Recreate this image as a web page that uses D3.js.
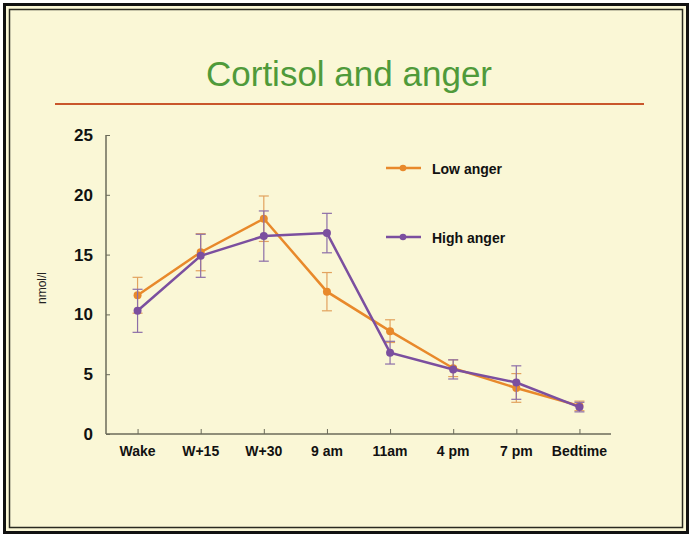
<!DOCTYPE html>
<html>
<head>
<meta charset="utf-8">
<script src="https://cdn.jsdelivr.net/npm/d3@7"></script>
<style>
  html, body { margin: 0; padding: 0; background: #ffffff; }
  svg { display: block; font-family: "Liberation Sans", Arial, sans-serif; }
</style>
</head>
<body>
<div id="chart"></div>
<script>
// categories along the x axis
var times = ["Wake", "W+15", "W+30", "9 am", "11am", "4 pm", "7 pm", "Bedtime"];

// mean cortisol (nmol/l) and error bar half-widths
var lowAnger = [11.6, 15.2, 18.0, 11.9, 8.6, 5.5, 3.85, 2.35];
var lowErr = [1.5, 1.55, 1.9, 1.6, 0.95, 0.7, 1.2, 0.4];
var highAnger = [10.3, 14.9, 16.55, 16.8, 6.8, 5.4, 4.3, 2.25];
var highErr = [1.8, 1.8, 2.1, 1.65, 0.95, 0.8, 1.4, 0.4];

var yTicks = [0, 5, 10, 15, 20, 25];

var series = [
  { name: "Low anger", values: lowAnger, err: lowErr, color: "#e8892b", errColor: "#e2a25e", legendY: 168 },
  { name: "High anger", values: highAnger, err: highErr, color: "#7b4f9f", errColor: "#8c6ea8", legendY: 237 }
];

var width = 691, height = 535;

var svg = d3.select("#chart").append("svg")
  .attr("width", width)
  .attr("height", height);

// background panel with double frame
svg.append("rect")
  .attr("x", 4.5).attr("y", 4.5)
  .attr("width", 683).attr("height", 528)
  .attr("fill", "#faf7d6")
  .attr("stroke", "#111").attr("stroke-width", 3);
svg.append("rect")
  .attr("x", 9.5).attr("y", 9.5)
  .attr("width", 673).attr("height", 518)
  .attr("fill", "none")
  .attr("stroke", "#2a2a20").attr("stroke-width", 1.5);

// title + rule
svg.append("text")
  .attr("x", 349).attr("y", 86)
  .attr("text-anchor", "middle")
  .attr("font-size", 35)
  .attr("fill", "#4f9a3a")
  .text("Cortisol and anger");

svg.append("line")
  .attr("x1", 55).attr("x2", 644)
  .attr("y1", 104).attr("y2", 104)
  .attr("stroke", "#c9562c").attr("stroke-width", 2);

// scales
var x = d3.scalePoint()
  .domain(times)
  .range([106, 611])
  .padding(0.5);

var y = d3.scaleLinear()
  .domain([0, 25])
  .range([434, 135]);

// axes
var axisColor = "#6b6b5a";

var yAxis = svg.append("g")
  .attr("transform", "translate(106,0)")
  .call(d3.axisRight(y).tickValues(yTicks).tickSize(4).tickFormat(""));
yAxis.select(".domain").attr("stroke", axisColor).attr("stroke-width", 1.5).attr("d", "M0,135V434");
yAxis.selectAll(".tick line").attr("stroke", axisColor);

svg.selectAll(".ylab")
  .data(yTicks)
  .enter().append("text")
  .attr("class", "ylab")
  .attr("x", 93)
  .attr("y", function (d) { return y(d) + 6; })
  .attr("text-anchor", "end")
  .attr("font-size", 17)
  .attr("font-weight", "bold")
  .attr("fill", "#111")
  .text(function (d) { return d; });

var xAxis = svg.append("g")
  .attr("transform", "translate(0,434)")
  .call(d3.axisTop(x).tickSize(5).tickFormat(""));
xAxis.select(".domain").attr("stroke", axisColor).attr("stroke-width", 1.5).attr("d", "M106,0H611");
xAxis.selectAll(".tick line").attr("stroke", axisColor);

svg.selectAll(".xlab")
  .data(times)
  .enter().append("text")
  .attr("class", "xlab")
  .attr("x", function (d) { return x(d); })
  .attr("y", 456)
  .attr("text-anchor", "middle")
  .attr("font-size", 14)
  .attr("font-weight", "bold")
  .attr("fill", "#111")
  .text(function (d) { return d; });

svg.append("text")
  .attr("transform", "translate(46,288) rotate(-90)")
  .attr("text-anchor", "middle")
  .attr("font-size", 12)
  .attr("fill", "#222")
  .text("nmol/l");

// lines, error bars, markers
var line = d3.line()
  .x(function (d, i) { return x(times[i]); })
  .y(function (d) { return y(d); });

series.forEach(function (s) {
  var g = svg.append("g");

  var eb = g.selectAll(".err")
    .data(s.values)
    .enter().append("g")
    .attr("stroke", s.errColor)
    .attr("stroke-width", 1.2);
  eb.append("line")
    .attr("x1", function (d, i) { return x(times[i]); })
    .attr("x2", function (d, i) { return x(times[i]); })
    .attr("y1", function (d, i) { return y(d - s.err[i]); })
    .attr("y2", function (d, i) { return y(d + s.err[i]); });
  eb.append("line")
    .attr("x1", function (d, i) { return x(times[i]) - 5; })
    .attr("x2", function (d, i) { return x(times[i]) + 5; })
    .attr("y1", function (d, i) { return y(d + s.err[i]); })
    .attr("y2", function (d, i) { return y(d + s.err[i]); });
  eb.append("line")
    .attr("x1", function (d, i) { return x(times[i]) - 5; })
    .attr("x2", function (d, i) { return x(times[i]) + 5; })
    .attr("y1", function (d, i) { return y(d - s.err[i]); })
    .attr("y2", function (d, i) { return y(d - s.err[i]); });

  g.append("path")
    .datum(s.values)
    .attr("fill", "none")
    .attr("stroke", s.color)
    .attr("stroke-width", 2.5)
    .attr("d", line);

  g.selectAll(".pt")
    .data(s.values)
    .enter().append("circle")
    .attr("cx", function (d, i) { return x(times[i]); })
    .attr("cy", function (d) { return y(d); })
    .attr("r", 4)
    .attr("fill", s.color);

  // legend entry
  var lg = svg.append("g").attr("transform", "translate(386," + s.legendY + ")");
  lg.append("line")
    .attr("x1", 0).attr("x2", 35)
    .attr("stroke", s.color).attr("stroke-width", 2.5);
  lg.append("circle")
    .attr("cx", 17).attr("cy", 0).attr("r", 3.3)
    .attr("fill", s.color);
  lg.append("text")
    .attr("x", 46).attr("y", 6)
    .attr("font-size", 14)
    .attr("font-weight", "bold")
    .attr("fill", "#111")
    .text(s.name);
});
</script>
</body>
</html>
